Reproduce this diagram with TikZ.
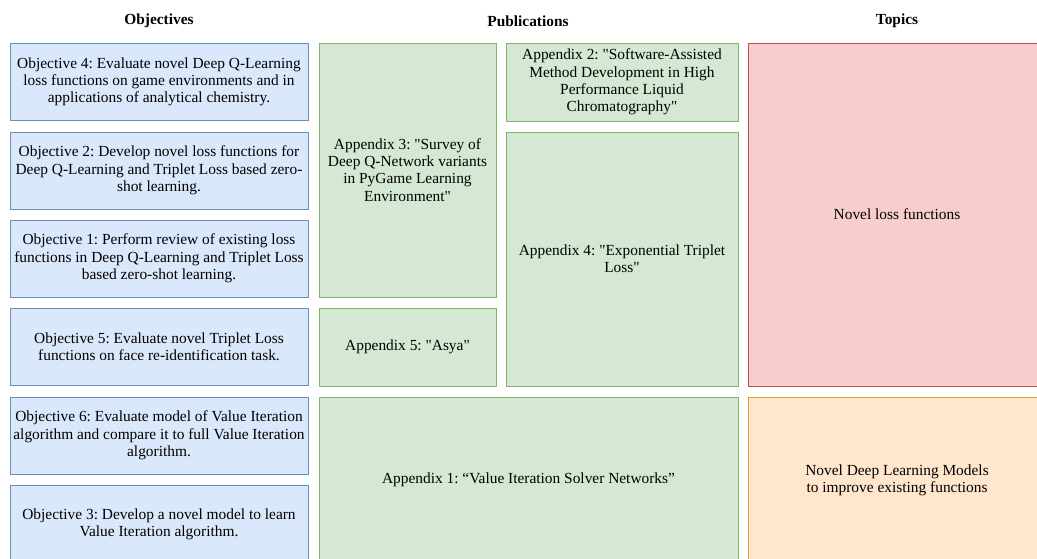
\documentclass[tikz,border=0pt]{standalone}
\usepackage{fontspec}
\setmainfont{Liberation Serif}[Ligatures=TeXOff]
\frenchspacing
\usetikzlibrary{positioning}

\definecolor{objfill}{HTML}{DAE8FC}
\definecolor{objline}{HTML}{6C8EBF}
\definecolor{pubfill}{HTML}{D5E8D4}
\definecolor{publine}{HTML}{82B366}
\definecolor{lossfill}{HTML}{F8CECC}
\definecolor{lossline}{HTML}{B85450}
\definecolor{modelfill}{HTML}{FFE6CC}
\definecolor{modelline}{HTML}{D6A62E}

\begin{document}
\begin{tikzpicture}[x=1pt, y=-1pt,
    every node/.style={font=\fontsize{15.4}{17.3}\selectfont, align=center, inner sep=0pt},
    header/.style={font=\fontsize{15.4}{17.3}\selectfont\bfseries},
    objbox/.style={draw=objline, fill=objfill, line width=0.9pt, minimum width=298pt, minimum height=77pt},
    pubbox/.style={draw=publine, fill=pubfill, line width=0.9pt},
    topicbox/.style={line width=0.9pt, minimum width=298pt}]

    \useasboundingbox (0,0) rectangle (1037,559);
    \clip (0,0) rectangle (1037,559);

    \node (objectives) [header] at (159,21) {Objectives};
    \node (publications) [header] at (528,21) {Publications};
    \node (topics) [header] at (897,21) {Topics};

    % objectives
    \node (obj4) [objbox] at (159,82) {Objective 4: Evaluate novel Deep Q-Learning\\ loss functions on game environments and in\\ applications of analytical chemistry.};
    \node (obj2) [objbox] at (159,170.5) {Objective 2: Develop novel loss functions for\\ Deep Q-Learning and Triplet Loss based zero-\\ shot learning.};
    \node (obj1) [objbox] at (159,258.5) {Objective 1: Perform review of existing loss\\ functions in Deep Q-Learning and Triplet Loss\\ based zero-shot learning.};
    \node (obj5) [objbox] at (159,347) {Objective 5: Evaluate novel Triplet Loss\\ functions on face re-identification task.};
    \node (obj6) [objbox] at (159,435.5) {Objective 6: Evaluate model of Value Iteration\\ algorithm and compare it to full Value Iteration\\ algorithm.};
    \node (obj3) [objbox] at (159,524) {Objective 3: Develop a novel model to learn\\ Value Iteration algorithm.};

    % publications
    \node (app3) [pubbox, minimum width=177pt, minimum height=254pt] at (407.5,170) {Appendix 3: "Survey of\\ Deep Q-Network variants\\ in PyGame Learning\\ Environment"};
    \node (app5) [pubbox, minimum width=177pt, minimum height=78pt] at (407.5,347) {Appendix 5: "Asya"};
    \node (app2) [pubbox, minimum width=232pt, minimum height=78pt] at (622,82) {Appendix 2: "Software-Assisted\\ Method Development in High\\ Performance Liquid\\ Chromatography"};
    \node (app4) [pubbox, minimum width=232pt, minimum height=254pt] at (622,259) {Appendix 4: "Exponential Triplet\\ Loss"};
    \node (app1) [pubbox, minimum width=419pt, minimum height=166pt] at (528.5,480) {Appendix 1: “Value Iteration Solver Networks”};

    % topics
    \node (loss) [topicbox, draw=lossline, fill=lossfill, minimum height=343pt] at (897,214.5) {Novel loss functions};
    \node (models) [topicbox, draw=modelline, fill=modelfill, minimum height=166pt] at (897,480) {Novel Deep Learning Models\\ to improve existing functions};

\end{tikzpicture}
\end{document}
